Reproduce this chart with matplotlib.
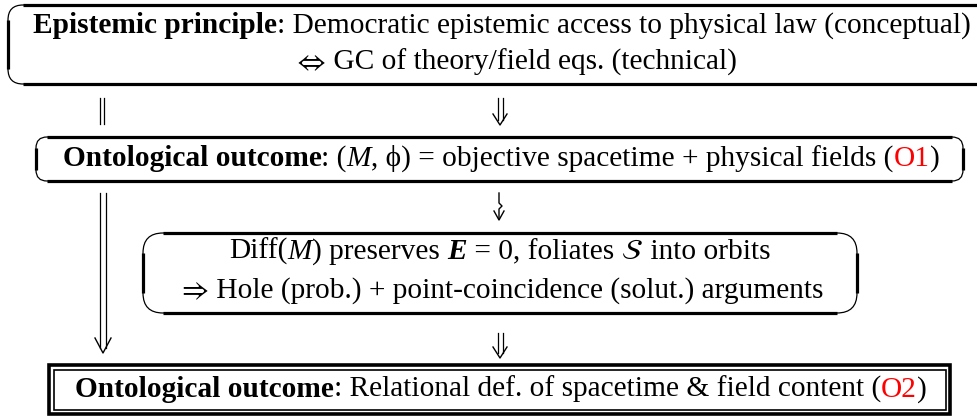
import matplotlib
matplotlib.use("Agg")
import matplotlib.pyplot as plt
from matplotlib.patches import FancyBboxPatch

plt.rcParams['font.family'] = ['Liberation Serif', 'DejaVu Serif']
plt.rcParams['mathtext.fontset'] = 'stix'

FS = 21.2
RED = '#ff0000'

# text content, one list of (text, style) pieces per line
line_epi_1 = [("Epistemic principle", 'b'), (": Democratic epistemic access to physical law (conceptual)", 'n')]
line_epi_2 = [(r"$\Leftrightarrow$", 'n'), (" GC of theory/field eqs. (technical)", 'n')]
line_o1 = [("Ontological outcome", 'b'), (": (", 'n'), ("M", 'i'), (", ϕ) = objective spacetime + physical fields (", 'n'),
           ("O1", 'r'), (")", 'n')]
line_diff_1 = [("Diff(", 'n'), ("M", 'i'), (") preserves ", 'n'), ("E", 'bi'), (" = 0, foliates ", 'n'),
               (r"$\mathcal{S}$", 'n'), (" into orbits", 'n')]
line_diff_2 = [(r"$\Rightarrow$", 'n'), (" Hole (prob.) + point-coincidence (solut.) arguments", 'n')]
line_o2 = [("Ontological outcome", 'b'), (": Relational def. of spacetime & field content (", 'n'), ("O2", 'r'), (")", 'n')]

fig = plt.figure(figsize=(9.78, 4.16), dpi=100)
ax = fig.add_axes([0, 0, 1, 1])
ax.set_xlim(0, 978)
ax.set_ylim(416, 0)
ax.axis('off')
renderer = fig.canvas.get_renderer()


def draw_line(pieces, xc, y):
    objs = []
    for txt, st in pieces:
        kw = dict(fontsize=FS, va='baseline', ha='left', color='black')
        if 'b' in st:
            kw['fontweight'] = 'bold'
        if 'i' in st:
            kw['fontstyle'] = 'italic'
        if st == 'r':
            kw['color'] = RED
        objs.append(ax.text(0, y, txt, **kw))
    widths = [o.get_window_extent(renderer).width for o in objs]
    x = xc - sum(widths) / 2
    for o, w in zip(objs, widths):
        o.set_x(x)
        x += w


def rounded_box(x0, y0, x1, y1, r, lw_thick=2.3):
    ax.add_patch(FancyBboxPatch((x0, y0), x1 - x0, y1 - y0,
                                boxstyle=f"round,pad=0,rounding_size={r}",
                                fc='white', ec='black', lw=0.9))
    ax.plot([x0 + r, x1 - r], [y0, y0], color='black', lw=lw_thick, solid_capstyle='butt')
    ax.plot([x0 + r, x1 - r], [y1, y1], color='black', lw=lw_thick, solid_capstyle='butt')
    ax.plot([x0, x0], [y0 + r, y1 - r], color='black', lw=lw_thick, solid_capstyle='butt')
    ax.plot([x1, x1], [y0 + r, y1 - r], color='black', lw=lw_thick, solid_capstyle='butt')


def double_arrow(x, y0, y1, gap=3, head=8, hl=14):
    ax.plot([x - gap, x - gap], [y0, y1 - 5], color='black', lw=0.9)
    ax.plot([x + gap, x + gap], [y0, y1 - 5], color='black', lw=0.9)
    ax.plot([x - head, x, x + head], [y1 - hl, y1, y1 - hl], color='black', lw=1.0)


# boxes
rounded_box(8, 5, 995, 84, 15)
rounded_box(36, 137, 963, 181, 11)
rounded_box(143, 233, 857, 313, 20)
ax.add_patch(plt.Rectangle((49, 365), 901, 49, fc='white', ec='black', lw=2.6))
ax.add_patch(plt.Rectangle((54, 369.5), 892, 40.5, fc='none', ec='black', lw=1.2))

# connectors
ax.plot([100, 100], [98, 124], color='black', lw=0.9)
ax.plot([104, 104], [98, 124], color='black', lw=0.9)
double_arrow(500, 98, 125, gap=2.5, head=7, hl=11)
double_arrow(103, 193, 353, gap=3, head=8, hl=15)
double_arrow(500, 333, 358, gap=2.5, head=7, hl=11)
ax.plot([499, 499, 502, 499, 499], [193, 203, 206, 209, 219], color='black', lw=1.0)
ax.plot([494, 499, 504], [211, 220, 211], color='black', lw=1.0)

# text
draw_line(line_epi_1, 502, 33)
draw_line(line_epi_2, 515, 70)
draw_line(line_o1, 501, 166)
draw_line(line_diff_1, 500, 259)
draw_line(line_diff_2, 500, 298)
draw_line(line_o2, 501, 397)

fig.savefig("out.png", dpi=100)
